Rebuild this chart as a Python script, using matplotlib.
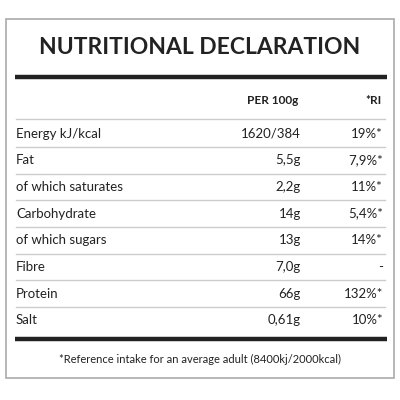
import matplotlib.pyplot as plt
from matplotlib.patches import Rectangle

TITLE = "NUTRITIONAL DECLARATION"
HEADERS = ["PER 100g", "*RI"]
NUTRIENTS = ["Energy kJ/kcal", "Fat", "of which saturates", "Carbohydrate",
             "of which sugars", "Fibre", "Protein", "Salt"]
PER_100G = ["1620/384", "5,5g", "2,2g", "14g", "13g", "7,0g", "66g", "0,61g"]
RI = ["19%*", "7,9%*", "11%*", "5,4%*", "14%*", "-", "132%*", "10%*"]
FOOTNOTE = "*Reference intake for an average adult (8400kj/2000kcal)"

plt.rcParams["font.family"] = ["Lato", "DejaVu Sans"]
fig = plt.figure(figsize=(4, 4), dpi=100)
ax = fig.add_axes([0, 0, 1, 1])
ax.set_xlim(0, 400)
ax.set_ylim(400, 0)
ax.axis("off")

txt = "#222222"
ax.add_patch(Rectangle((6, 19), 388, 359, fill=False, edgecolor="#aaaaaa", lw=1.2))
ax.text(200, 48, TITLE, ha="center", va="center", fontsize=16.5,
        fontweight="bold", color=txt)
ax.plot([15, 387], [77, 77], color="#222222", lw=3.2, solid_capstyle="butt")

ax.text(298, 100, HEADERS[0], ha="right", va="center", fontsize=8.5,
        fontweight="bold", color=txt)
ax.text(382, 100, HEADERS[1], ha="right", va="center", fontsize=8.5,
        fontweight="bold", color=txt)

y0, step = 133.5, 26.7
ax.plot([16, 385], [y0 - step / 2 - 1, y0 - step / 2 - 1], color="#cccccc", lw=1)
for i, (name, val, ri) in enumerate(zip(NUTRIENTS, PER_100G, RI)):
    y = y0 + i * step
    ax.text(16, y, name, ha="left", va="center", fontsize=9.5, color=txt)
    ax.text(301, y, val, ha="right", va="center", fontsize=9.5, color=txt)
    ax.text(383, y, ri, ha="right", va="center", fontsize=9.5, color=txt)
    if i < len(NUTRIENTS) - 1:
        ax.plot([16, 385], [y + step / 2, y + step / 2], color="#cccccc", lw=1)

ax.plot([15, 387], [339, 339], color="#222222", lw=3.2, solid_capstyle="butt")
ax.text(200, 359, FOOTNOTE, ha="center", va="center", fontsize=8, color=txt)

fig.savefig("out.png", dpi=100)
